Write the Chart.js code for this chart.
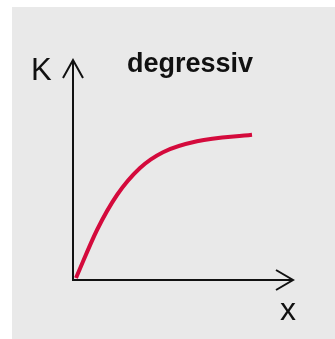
<!DOCTYPE html>
<html>
<head>
<meta charset="utf-8">
<script src="https://cdn.jsdelivr.net/npm/chart.js@4/dist/chart.umd.min.js"></script>
<style>
  html, body { margin: 0; padding: 0; background: #ffffff; }
  #wrap { width: 335px; height: 339px; }
</style>
</head>
<body>
<div id="wrap"><canvas id="c" width="335" height="339"></canvas></div>
<script>
// Cost curve K(x): degressive growth
const xValues = [3, 24, 44, 67, 90, 124, 179];
const kValues = [2, 50, 85, 112, 127.8, 138.7, 145.3];

const titleText = 'degressiv';
const yAxisLabel = 'K';
const xAxisLabel = 'x';

const points = xValues.map((x, i) => ({ x: x, y: kValues[i] }));

// Panel background, arrowed axes and labels
const decor = {
  id: 'decor',
  beforeDraw(chart) {
    const ctx = chart.ctx;
    ctx.save();
    ctx.fillStyle = '#ffffff';
    ctx.fillRect(0, 0, chart.width, chart.height);
    ctx.fillStyle = '#e9e9e9';
    ctx.fillRect(12, 7, chart.width - 12, chart.height - 7);
    ctx.restore();
  },
  beforeDatasetsDraw(chart) {
    const ctx = chart.ctx;
    const xs = chart.scales.x, ys = chart.scales.y;
    const x0 = xs.getPixelForValue(0), xEnd = xs.getPixelForValue(xs.max);
    const y0 = ys.getPixelForValue(0), yEnd = ys.getPixelForValue(ys.max);
    ctx.save();
    ctx.strokeStyle = '#111111';
    ctx.lineWidth = 2;
    ctx.lineCap = 'butt';
    ctx.lineJoin = 'miter';
    ctx.beginPath();
    ctx.moveTo(x0, yEnd);
    ctx.lineTo(x0, y0);
    ctx.lineTo(xEnd, y0);
    ctx.stroke();
    // arrow heads
    ctx.beginPath();
    ctx.moveTo(x0 - 10, yEnd + 18);
    ctx.lineTo(x0, yEnd);
    ctx.lineTo(x0 + 10, yEnd + 18);
    ctx.moveTo(xEnd - 17, y0 - 10);
    ctx.lineTo(xEnd, y0);
    ctx.lineTo(xEnd - 17, y0 + 10);
    ctx.stroke();

    ctx.fillStyle = '#111111';
    ctx.textBaseline = 'alphabetic';
    ctx.textAlign = 'left';
    ctx.font = '31px "Liberation Sans", Arial, sans-serif';
    ctx.fillText(yAxisLabel, 31, 80);
    ctx.font = '32px "Liberation Sans", Arial, sans-serif';
    ctx.textAlign = 'center';
    ctx.fillText(xAxisLabel, 288, 320);
    ctx.font = 'bold 27px "Liberation Sans", Arial, sans-serif';
    ctx.fillText(titleText, 190, 72);
    ctx.restore();
  }
};

new Chart(document.getElementById('c'), {
  type: 'scatter',
  data: {
    datasets: [{
      data: points,
      showLine: true,
      borderColor: '#d40a3c',
      borderWidth: 4,
      pointRadius: 0,
      fill: false,
      cubicInterpolationMode: 'monotone'
    }]
  },
  options: {
    responsive: false,
    animation: false,
    layout: { padding: { left: 73, right: 42, top: 60, bottom: 59 } },
    plugins: { legend: { display: false }, tooltip: { enabled: false } },
    scales: {
      x: { type: 'linear', display: false, min: 0, max: 220 },
      y: { type: 'linear', display: false, min: 0, max: 220 }
    }
  },
  plugins: [decor]
});
</script>
</body>
</html>
